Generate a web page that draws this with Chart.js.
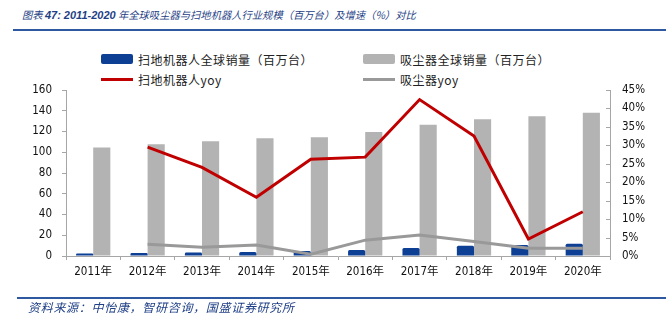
<!DOCTYPE html>
<html>
<head>
<meta charset="utf-8">
<script src="https://cdn.jsdelivr.net/npm/chart.js@4.4.1/dist/chart.umd.min.js"></script>
<style>
  html, body { margin: 0; padding: 0; background: #fff; }
  #wrap { position: relative; width: 666px; height: 324px; overflow: hidden; }
  #c { position: absolute; left: 0; top: 0; }
  .title {
    position: absolute; left: 22px; top: 6px; white-space: nowrap;
    font-family: "Noto Sans CJK SC", sans-serif; font-style: italic;
    font-size: 10.3px; color: #1F3F86; line-height: 18px;
  }
  .title b { font-family: "Liberation Sans", Arial, sans-serif; font-weight: bold; font-size: 11px; }
  .rule { position: absolute; height: 2px; background: #2E59A0; }
  .source {
    position: absolute; left: 28px; top: 299px; white-space: nowrap;
    font-family: "Noto Sans CJK SC", sans-serif; font-style: italic;
    font-size: 12px; letter-spacing: 0.7px; color: #1F3F86; line-height: 16px;
  }
  .lg { position: absolute; display: flex; align-items: center; white-space: nowrap;
    font-family: "Noto Sans CJK SC", "DejaVu Sans", sans-serif; font-size: 12px;
    letter-spacing: 0.5px; color: #222; height: 16px; }
  .lg i { display: inline-block; width: 32px; margin-right: 5px; }
</style>
</head>
<body>
<div id="wrap">
  <div class="title">图表 <b>47: 2011-2020</b> 年全球吸尘器与扫地机器人行业规模（百万台）及增速（%）对比</div>
  <div class="rule" style="left:13px; top:29px; width:653px;"></div>
  <div id="legend"></div>
  <canvas id="c" width="666" height="324"></canvas>
  <div class="rule" style="left:17px; top:297px; width:649px;"></div>
  <div class="source">资料来源：中怡康，智研咨询，国盛证券研究所</div>
</div>
<script>
// Years on the category axis
const years = ['2011年','2012年','2013年','2014年','2015年','2016年','2017年','2018年','2019年','2020年'];

// Global unit sales, millions
const robotSales  = [2.5, 2.9, 3.3, 3.9, 4.8, 5.7, 7.7, 9.9, 10.6, 11.9];
const vacuumSales = [104.5, 107.8, 110.5, 113.5, 114.5, 119.5, 126.5, 131.8, 134.8, 138.0];

// Year-on-year growth, percent
const robotYoy  = [null, 29.5, 24.0, 15.9, 26.2, 26.8, 42.4, 32.5, 4.6, 12.0];
const vacuumYoy = [null, 3.2, 2.4, 3.0, 0.5, 4.3, 5.7, 3.9, 2.1, 2.1];

// Axis ticks
const leftMax = 160, leftStep = 20;
const rightMax = 45, rightStep = 5;

const BLUE = '#0D3F94', GRAY_BAR = '#B3B3B3', RED = '#C00000', GRAY_LINE = '#999999';
const AXIS = '#A6A6A6';
const tickFont = { family: "'DejaVu Sans Condensed', 'DejaVu Sans', 'Noto Sans CJK SC', sans-serif", size: 11.5 };

const datasets = [
  { type: 'bar', label: '扫地机器人全球销量（百万台）', data: robotSales, backgroundColor: BLUE,
    yAxisID: 'y', order: 2, barPercentage: 1, categoryPercentage: 0.63, borderRadius: 1.5 },
  { type: 'bar', label: '吸尘器全球销量（百万台）', data: vacuumSales, backgroundColor: GRAY_BAR,
    yAxisID: 'y', order: 2, barPercentage: 1, categoryPercentage: 0.63 },
  { type: 'line', label: '扫地机器人yoy', data: robotYoy, borderColor: RED, backgroundColor: RED,
    borderWidth: 3, pointRadius: 0, tension: 0, yAxisID: 'y1', order: 1 },
  { type: 'line', label: '吸尘器yoy', data: vacuumYoy, borderColor: GRAY_LINE, backgroundColor: GRAY_LINE,
    borderWidth: 3, pointRadius: 0, tension: 0, yAxisID: 'y1', order: 0 }
];

// Two-column legend built from the dataset labels and colours
const legendPos = [[101, 51], [363, 51], [101, 71], [363, 71]];
const legendEl = document.getElementById('legend');
datasets.forEach((ds, i) => {
  const row = document.createElement('div');
  row.className = 'lg';
  row.style.left = legendPos[i][0] + 'px';
  row.style.top = legendPos[i][1] + 'px';
  const sw = document.createElement('i');
  if (ds.type === 'bar') {
    sw.style.height = '10px';
    sw.style.background = ds.backgroundColor;
    sw.style.borderRadius = '2px';
  } else {
    sw.style.height = '3px';
    sw.style.background = ds.borderColor;
  }
  row.appendChild(sw);
  row.appendChild(document.createTextNode(ds.label));
  legendEl.appendChild(row);
});

// Short tick marks pointing into the plot on the right-hand axis
const innerTicks = {
  id: 'innerTicks',
  afterDraw(chart) {
    const s = chart.scales.y1, ctx = chart.ctx;
    ctx.save();
    ctx.strokeStyle = AXIS; ctx.lineWidth = 1;
    s.ticks.forEach((t, i) => {
      const y = Math.round(s.getPixelForTick(i)) + 0.5;
      ctx.beginPath(); ctx.moveTo(s.left - 4, y); ctx.lineTo(s.left, y); ctx.stroke();
    });
    ctx.restore();
  }
};

new Chart(document.getElementById('c'), {
  data: { labels: years, datasets },
  options: {
    responsive: false, animation: false, devicePixelRatio: 1,
    layout: { padding: { top: 90, bottom: 38, left: 0, right: 0 } },
    plugins: { legend: { display: false }, tooltip: { enabled: false } },
    scales: {
      x: {
        offset: true,
        grid: { drawOnChartArea: false, drawTicks: true, tickLength: 4, color: AXIS, offset: true },
        border: { display: true, color: AXIS },
        ticks: { font: tickFont, color: '#111', padding: 5, maxRotation: 0, autoSkip: false },
        afterFit(s) { s.height = 30; }
      },
      y: {
        position: 'left', min: 0, max: leftMax,
        grid: { drawOnChartArea: false, drawTicks: true, tickLength: 4, color: AXIS },
        border: { display: true, color: AXIS },
        ticks: { stepSize: leftStep, font: tickFont, color: '#111', padding: 10 },
        afterFit(s) { s.width = 66; }
      },
      y1: {
        position: 'right', min: 0, max: rightMax,
        grid: { drawOnChartArea: false, drawTicks: false },
        border: { display: true, color: AXIS },
        ticks: { stepSize: rightStep, font: tickFont, color: '#111', padding: 12,
                 callback: v => v + '%' },
        afterFit(s) { s.width = 56; }
      }
    }
  },
  plugins: [innerTicks]
});
</script>
</body>
</html>
